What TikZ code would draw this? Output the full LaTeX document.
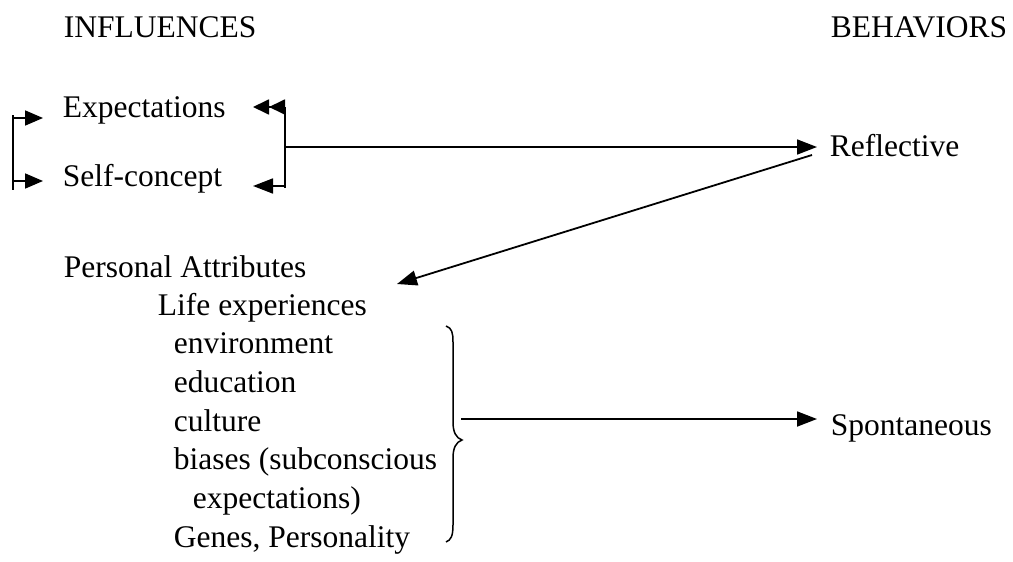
\documentclass[tikz,border=0pt]{standalone}
\usepackage{fontspec}
\setmainfont{Liberation Serif}
\usetikzlibrary{arrows.meta}
\begin{document}
\begin{tikzpicture}[x=1pt,y=-1pt,line width=1.8pt,
  lbl/.style={anchor=base west,inner sep=0pt,font=\fontsize{31.5}{36}\selectfont},
  tri/.style={-{Triangle[length=20pt,width=15pt]}},
  trismall/.style={-{Triangle[length=18pt,width=15pt]}},
  tridouble/.style={-{Triangle[length=16pt,width=15pt,sep=0pt]Triangle[length=16pt,width=15pt]}},
  bracestyle/.style={line width=1.5pt}]
\useasboundingbox (0,0) rectangle (1013,562);
% headings
\node[lbl] (infl) at (63,37) {INFLUENCES};
\node[lbl] (beh) at (830,37) {BEHAVIORS};
% influences
\node[lbl] (exp) at (62,117) {Expectations};
\node[lbl] (self) at (62,186) {Self-concept};
\node[lbl] (pers) at (63,277) {Personal Attributes};
\node[lbl] (life) at (157,315) {Life experiences};
\node[lbl] (env) at (173,353.7) {environment};
\node[lbl] (edu) at (173,392.3) {education};
\node[lbl] (cult) at (173,431) {culture};
\node[lbl] (bias) at (173,469.7) {biases (subconscious};
\node[lbl] (bexp) at (192,508.3) {expectations)};
\node[lbl] (genes) at (173,547) {Genes, Personality};
% behaviors
\node[lbl] (refl) at (829,156) {Reflective};
\node[lbl] (spon) at (830,435) {Spontaneous};
% left bracket
\coordinate (lbTop) at (13,115);
\coordinate (lbBot) at (13,190);
\coordinate (lbA) at (13,118);
\coordinate (lbB) at (13,181);
\coordinate (expIn) at (43,118);
\coordinate (selfIn) at (43,181);
\draw (lbTop) -- (lbBot);
\draw[trismall] (lbA) -- (expIn);
\draw[trismall] (lbB) -- (selfIn);
% right bracket
\coordinate (rbTop) at (285,107);
\coordinate (rbBot) at (285,186);
\coordinate (rbEnd) at (285,188);
\coordinate (expBack) at (253,107);
\coordinate (selfBack) at (253,186);
\coordinate (rbMid) at (285,147);
\coordinate (reflIn) at (817,147);
\draw (rbTop) -- (rbEnd);
\draw[tridouble] (rbTop) -- (expBack);
\draw[tri] (rbBot) -- (selfBack);
\draw[tri] (rbMid) -- (reflIn);
% reflective back to personal attributes
\coordinate (reflOut) at (812,155);
\coordinate (persIn) at (397,284);
\draw[tri] (reflOut) -- (persIn);
% brace
\coordinate (brTop) at (446,326);
\coordinate (brTip) at (462,440);
\coordinate (brBot) at (446,542);
\draw[bracestyle] (brTop) .. controls (452,328) and (453,333) .. (453,342)
  -- (453,422) .. controls (453,432) and (456,438) .. (brTip)
  .. controls (456,442) and (453,448) .. (453,458)
  -- (453,525) .. controls (453,536) and (451,540) .. (brBot);
\coordinate (brOut) at (461,419);
\coordinate (sponIn) at (817,419);
\draw[tri] (brOut) -- (sponIn);
\end{tikzpicture}
\end{document}
